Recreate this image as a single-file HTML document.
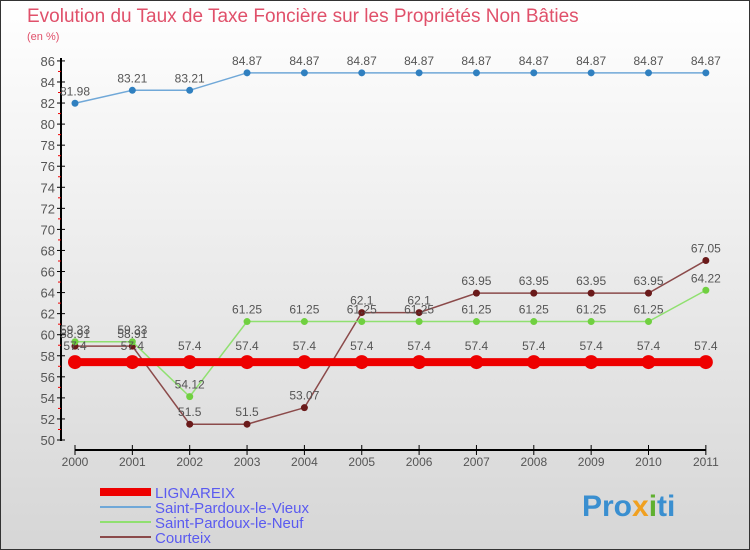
<!DOCTYPE html>
<html><head><meta charset="utf-8"><style>
body{margin:0;}
#c{width:750px;height:550px;position:relative;overflow:hidden;}
svg text{font-family:"Liberation Sans",sans-serif;}
</style></head><body>
<div id="c">
<svg id="s" width="750" height="550" xmlns="http://www.w3.org/2000/svg">
<defs><linearGradient id="bg" x1="0" y1="0" x2="0" y2="1"><stop offset="0" stop-color="#ffffff"/><stop offset="1" stop-color="#d6d6d6"/></linearGradient></defs>
<rect x="0.5" y="0.5" width="749" height="549" fill="url(#bg)" stroke="#333"/>
<text x="27" y="22" font-size="19" fill="#e0506a">Evolution du Taux de Taxe Foncière sur les Propriétés Non Bâties</text>
<text x="27" y="40" font-size="11" fill="#e0506a">(en %)</text>
<g id="axes"></g><g id="series"></g><g id="legend"></g>
<text x="582" y="516" font-size="30" font-weight="bold" fill="#3a8fd0">Pro<tspan fill="#f0a020">x</tspan><tspan fill="#60b030">i</tspan>ti</text>
</svg></div>
<script>
const years=[2000,2001,2002,2003,2004,2005,2006,2007,2008,2009,2010,2011];
const lignareix=[57.4,57.4,57.4,57.4,57.4,57.4,57.4,57.4,57.4,57.4,57.4,57.4];
const vieux=[81.98,83.21,83.21,84.87,84.87,84.87,84.87,84.87,84.87,84.87,84.87,84.87];
const neuf=[59.33,59.33,54.12,61.25,61.25,61.25,61.25,61.25,61.25,61.25,61.25,64.22];
const courteix=[58.91,58.91,51.5,51.5,53.07,62.1,62.1,63.95,63.95,63.95,63.95,67.05];
const yTicks=[50,52,54,56,58,60,62,64,66,68,70,72,74,76,78,80,82,84,86];
const NS="http://www.w3.org/2000/svg";
const X=i=>75+i*57.35;
const Y=v=>440-(v-50)*10.53;
function el(t,a,p){const e=document.createElementNS(NS,t);for(const k in a)e.setAttribute(k,a[k]);p.appendChild(e);return e;}
const ax=document.getElementById('axes');
let l=el('line',{x1:61,y1:58,x2:61,y2:441,stroke:'#000','stroke-width':2},ax);


yTicks.forEach(v=>{
 el('line',{x1:57,x2:65,y1:Y(v),y2:Y(v),stroke:'#000'},ax);
 if(v<86) el('line',{x1:58,x2:61,y1:Y(v+1),y2:Y(v+1),stroke:'#e00'},ax);
 const t=el('text',{x:55,y:Y(v)+5,'text-anchor':'end','font-size':13,fill:'#555'},ax);t.textContent=v;
 
 
});
l=el('line',{x1:75,y1:450,x2:X(11),y2:450,stroke:'#000','stroke-width':2},ax);


years.forEach((y,i)=>{
 el('line',{x1:X(i),x2:X(i),y1:445,y2:455,stroke:'#000'},ax);
 const t=el('text',{x:X(i),y:466,'text-anchor':'middle','font-size':12,fill:'#555'},ax);t.textContent=y;
 
 
});
const sg=document.getElementById('series');
function series(vals,color,w,r,name,dot){
 const g=el('g',{},sg);
 
 
 el('polyline',{points:vals.map((v,i)=>X(i)+','+Y(v)).join(' '),fill:'none',stroke:color,'stroke-width':w},g);
 vals.forEach((v,i)=>{
  const c=el('circle',{cx:X(i),cy:Y(v),r:r,fill:dot},g);
  
  
  const t=el('text',{x:X(i),y:Y(v)-8-(r>5?4:0),'text-anchor':'middle','font-size':12,fill:'#555'},g);t.textContent=v;
 });
}
series(courteix,'#8b4a4a',1.5,3.5,'courteix-series','#6a1a1a');
series(neuf,'#90e070',1.5,3.5,'saint-pardoux-le-neuf-series','#70d040');
series(vieux,'#70a8d8',1.5,3.5,'saint-pardoux-le-vieux-series','#3080c0');
series(lignareix,'#ee0000',8,7,'lignareix-series','#ee0000');
const lg=document.getElementById('legend');
const names=['LIGNAREIX','Saint-Pardoux-le-Vieux','Saint-Pardoux-le-Neuf','Courteix'];
const cols=['#ee0000','#70a8d8','#90e070','#8b4a4a'];
const ws=[8,2,2,2];
names.forEach((n,i)=>{
 const y=492+i*15;
 const g=el('g',{},lg);
 
 
 el('line',{x1:100,x2:151,y1:y,y2:y,stroke:cols[i],'stroke-width':ws[i]},g);
 const t=el('text',{x:155,y:y+6,'font-size':15,fill:'#5a5af0'},g);t.textContent=n;
});
</script>
</body></html>
